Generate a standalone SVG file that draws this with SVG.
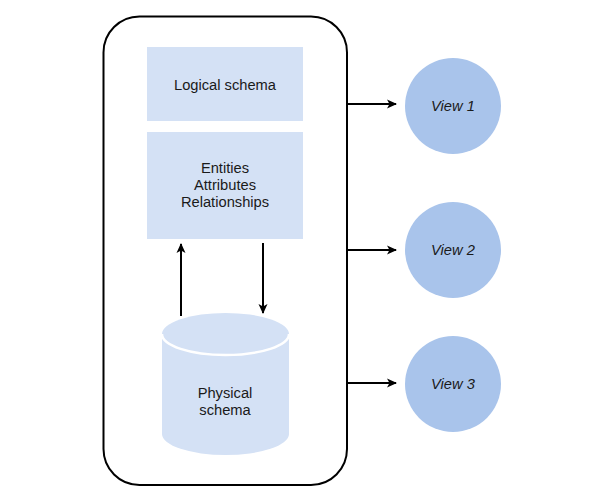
<svg xmlns="http://www.w3.org/2000/svg" width="590" height="498" viewBox="0 0 590 498">
<style>
.t{font-family:"Liberation Sans",Arial,sans-serif;font-size:14.7px;fill:#1a1a1a;text-anchor:middle}
.v{font-style:italic}
.box{fill:#D4E1F5}
.view{fill:#A9C4EB}
.c{stroke:#000;stroke-width:2;fill:none}
</style>
<defs>
<marker id="ah" markerWidth="10" markerHeight="10" refX="9" refY="5" orient="auto" markerUnits="userSpaceOnUse">
<path d="M0,0.5 L10,5 L0,9.5 L2.5,5 Z" fill="#000"/>
</marker>
</defs>
<rect width="590" height="498" fill="#fff"/>
<g id="container">
<rect x="103.5" y="16.5" width="243.5" height="468.5" rx="36" ry="36" fill="#fff" stroke="#000" stroke-width="2"/>
</g>
<g id="logical">
<rect class="box" x="147" y="47" width="156" height="74"/>
<text class="t" x="225" y="90">Logical schema</text>
</g>
<g id="entities">
<rect class="box" x="147" y="132" width="156" height="107"/>
<text class="t" x="225" y="173">Entities</text>
<text class="t" x="225" y="190">Attributes</text>
<text class="t" x="225" y="207">Relationships</text>
</g>
<g id="physical">
<path class="box" d="M162,334 L162,434 A63.5,21 0 0 0 289,434 L289,334 Z"/>
<ellipse class="box" cx="225.5" cy="334" rx="63.5" ry="21"/>
<path d="M162,334 A63.5,21 0 0 0 289,334" fill="none" stroke="#fff" stroke-width="2.5"/>
<text class="t" x="225" y="398">Physical</text>
<text class="t" x="225" y="415">schema</text>
</g>
<g id="view1">
<circle class="view" cx="453" cy="106" r="48"/>
<text class="t v" x="453" y="111">View 1</text>
</g>
<g id="view2">
<circle class="view" cx="453" cy="250" r="48"/>
<text class="t v" x="453" y="255">View 2</text>
</g>
<g id="view3">
<circle class="view" cx="453" cy="384" r="48"/>
<text class="t v" x="453" y="389">View 3</text>
</g>
<g id="connectors">
<line class="c" x1="181" y1="316" x2="181" y2="244" marker-end="url(#ah)"/>
<line class="c" x1="263" y1="243" x2="263" y2="313" marker-end="url(#ah)"/>
<line class="c" x1="347" y1="104" x2="396" y2="104" marker-end="url(#ah)"/>
<line class="c" x1="347" y1="250" x2="396" y2="250" marker-end="url(#ah)"/>
<line class="c" x1="347" y1="383" x2="396" y2="383" marker-end="url(#ah)"/>
</g>
</svg>
